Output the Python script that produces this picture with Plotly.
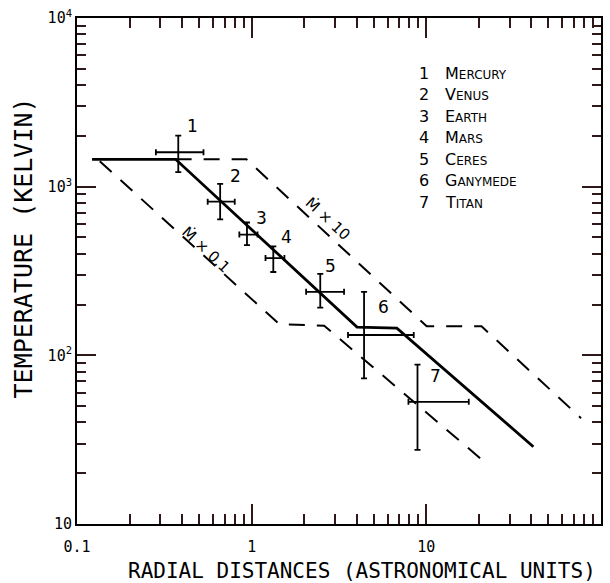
import math
import plotly.graph_objects as go

# ---- data ----
planets = ["Mercury", "Venus", "Earth", "Mars", "Ceres", "Ganymede", "Titan"]
planet_no = ["1", "2", "3", "4", "5", "6", "7"]
r_au = [0.38, 0.66, 0.94, 1.33, 2.47, 4.40, 8.9]
r_lo = [0.283, 0.56, 0.85, 1.20, 2.05, 3.56, 7.9]
r_hi = [0.53, 0.80, 1.08, 1.54, 3.38, 8.47, 17.5]
T_k = [1600, 815, 520, 377, 238, 132, 53]
T_lo = [1220, 640, 450, 312, 192, 73, 27.5]
T_hi = [2010, 1040, 613, 443, 304, 238, 88]

solid_r = [0.122, 0.367, 4.01, 6.78, 41.0]
solid_T = [1453, 1453, 147, 145, 28.7]

mdot10_r = [0.367, 0.933, 10.05, 20.7, 76.9]
mdot10_T = [1453, 1453, 148.6, 148.6, 42.4]

mdot01_r = [0.135, 1.44, 2.60, 22.1]
mdot01_T = [1415, 153, 150, 22.8]

x_decades = [0.1, 1, 10, 100]
x_decade_text = ["0.1", "1", "10", "100"]
y_decades = [10, 100, 1000, 10000]
y_decade_text = ["10", "10<sup>2</sup>", "10<sup>3</sup>", "10<sup>4</sup>"]

x_title = "RADIAL DISTANCES (ASTRONOMICAL UNITS)"
y_title = "TEMPERATURE (KELVIN)"

INK = "black"
TICK = "#301818"

# ---- figure ----
fig = go.Figure()

dash_style = "16px,12px"
fig.add_trace(go.Scatter(x=mdot10_r, y=mdot10_T, mode="lines",
                         line=dict(color=INK, width=2, dash=dash_style),
                         hoverinfo="skip", showlegend=False))
fig.add_trace(go.Scatter(x=mdot01_r, y=mdot01_T, mode="lines",
                         line=dict(color=INK, width=2, dash=dash_style),
                         hoverinfo="skip", showlegend=False))
fig.add_trace(go.Scatter(x=solid_r, y=solid_T, mode="lines",
                         line=dict(color=INK, width=2.8),
                         hoverinfo="skip", showlegend=False))

fig.add_trace(go.Scatter(
    x=r_au, y=T_k, mode="markers",
    marker=dict(size=2, color=INK),
    error_x=dict(type="data", symmetric=False,
                 array=[h - c for h, c in zip(r_hi, r_au)],
                 arrayminus=[c - l for c, l in zip(r_au, r_lo)],
                 color=INK, thickness=1.8, width=3),
    error_y=dict(type="data", symmetric=False,
                 array=[h - c for h, c in zip(T_hi, T_k)],
                 arrayminus=[c - l for c, l in zip(T_k, T_lo)],
                 color=INK, thickness=1.8, width=3),
    showlegend=False, hoverinfo="skip"))

# number labels next to crosses (pixel offsets)
label_offsets = [(14, 26), (15, 26), (15, 17), (13, 21), (10, 26), (19, 28), (18, 26)]
for n, x, y, (dx, dy) in zip(planet_no, r_au, T_k, label_offsets):
    fig.add_annotation(x=math.log10(x), y=math.log10(y), xref="x", yref="y",
                       text=n, showarrow=False, xshift=dx, yshift=dy,
                       font=dict(family="DejaVu Sans", size=17, color=INK))

# legend list (small caps)
def smallcaps(name):
    return name[0].upper() + '<span style="font-size:12px">' + name[1:].upper() + '</span>'

PLOT_L, PLOT_R, PLOT_T, PLOT_B = 77, 603, 12, 524
def px_x(p):
    return (p - PLOT_L) / (PLOT_R - PLOT_L)
def px_y(p):
    return (PLOT_B - p) / (PLOT_B - PLOT_T)

for i, (n, name) in enumerate(zip(planet_no, planets)):
    yy = px_y(68 + 21.7 * i)
    fig.add_annotation(xref="paper", yref="paper", x=px_x(425), y=yy,
                       text=n, showarrow=False, xanchor="center", yanchor="middle",
                       font=dict(family="DejaVu Sans", size=16, color=INK))
    fig.add_annotation(xref="paper", yref="paper", x=px_x(444), y=yy,
                       text=smallcaps(name), showarrow=False, xanchor="left", yanchor="middle",
                       font=dict(family="DejaVu Sans", size=16, color=INK))

# Mdot labels on dashed curves
fig.add_annotation(xref="paper", yref="paper", x=px_x(329), y=px_y(215),
                   text="Ṁ × 10", showarrow=False, textangle=43,
                   font=dict(family="DejaVu Sans", size=15, color=INK))
fig.add_annotation(xref="paper", yref="paper", x=px_x(176), y=px_y(246),
                   text="Ṁ × 0.1", showarrow=False, textangle=43,
                   font=dict(family="DejaVu Sans", size=15, color=INK))

# axis titles
fig.add_annotation(xref="paper", yref="paper", x=px_x(363), y=px_y(572),
                   text=x_title, showarrow=False, xanchor="center", yanchor="middle",
                   font=dict(family="DejaVu Sans Mono", size=21, color=INK))
fig.add_annotation(xref="paper", yref="paper", x=px_x(23), y=px_y(245),
                   text=y_title, showarrow=False, textangle=-90,
                   xanchor="center", yanchor="middle",
                   font=dict(family="DejaVu Sans Mono", size=25, color=INK))

# minor tick positions (digits 2..9 of each decade)
x_minor = [m * d for d in x_decades[:-1] for m in range(2, 10)]
y_minor = [m * d for d in y_decades[:-1] for m in range(2, 10)]

tick_font = dict(family="DejaVu Sans Mono", size=15, color=INK)

fig.update_xaxes(type="log", range=[-1, 2], tickmode="array",
                 tickvals=x_decades, ticktext=x_decade_text,
                 ticks="inside", ticklen=20, tickwidth=2, tickcolor=TICK,
                 showline=True, linewidth=2, linecolor=INK, mirror="allticks",
                 showgrid=False, zeroline=False, tickfont=tick_font,
                 ticklabelstandoff=8,
                 minor=dict(ticks="inside", ticklen=10, tickwidth=2, tickcolor=TICK,
                            tickvals=x_minor, showgrid=False))
fig.update_yaxes(type="log", range=[1, 4], tickmode="array",
                 tickvals=y_decades, ticktext=y_decade_text,
                 ticks="inside", ticklen=19, tickwidth=2, tickcolor=TICK,
                 showline=True, linewidth=2, linecolor=INK, mirror="allticks",
                 showgrid=False, zeroline=False, tickfont=tick_font,
                 minor=dict(ticks="inside", ticklen=9, tickwidth=2, tickcolor=TICK,
                            tickvals=y_minor, showgrid=False))

fig.update_layout(width=610, height=583, margin=dict(l=77, r=7, t=12, b=59),
                  plot_bgcolor="white", paper_bgcolor="white", showlegend=False)

fig.write_html("out.html")
